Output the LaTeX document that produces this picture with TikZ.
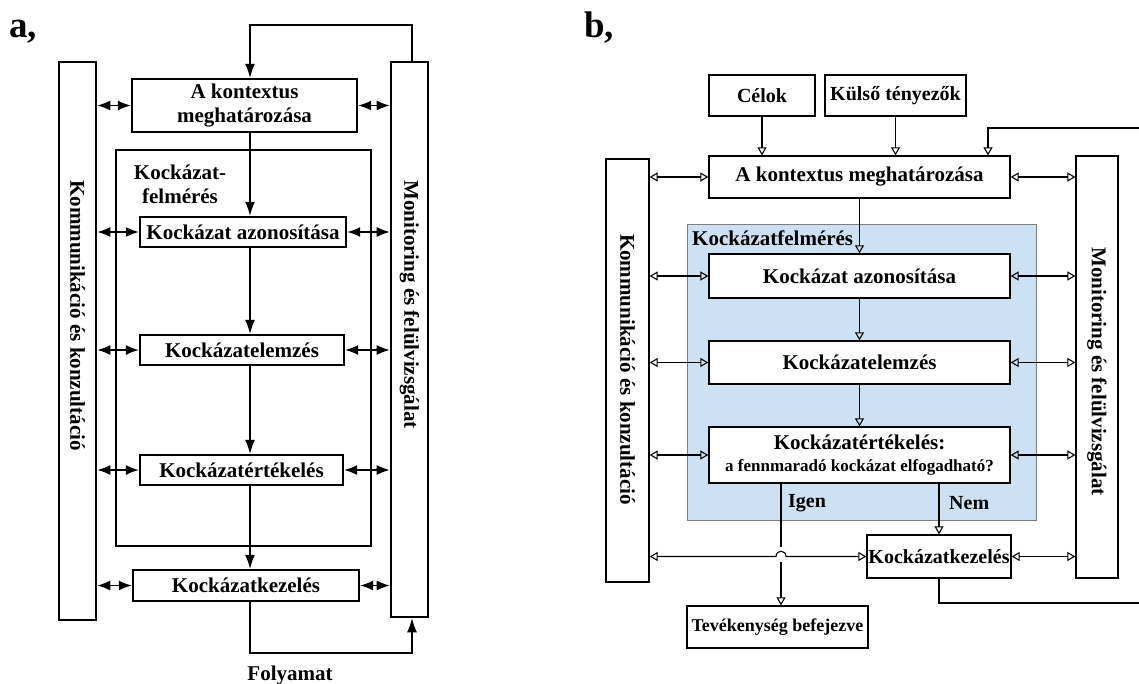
\documentclass[tikz,border=0pt]{standalone}
\usepackage{fontspec}
\setmainfont{Liberation Serif}
\usetikzlibrary{arrows.meta,calc}
\definecolor{bfill}{RGB}{205,225,244}
\definecolor{bedge}{RGB}{125,125,125}
\begin{document}
\begin{tikzpicture}[x=1pt,y=-1pt,
  font=\bfseries\fontsize{21}{24}\selectfont,
  abox/.style={draw, line width=2.3pt, inner sep=0pt, align=center},
  abar/.style={draw, line width=2.6pt, inner sep=0pt},
  aframe/.style={draw, line width=1.4pt, inner sep=0pt},
  aarr/.style={line width=1.4pt, -{Latex[length=14pt,width=10pt]}},
  adbl/.style={line width=1.4pt, {Latex[length=13pt,width=10pt]}-{Latex[length=13pt,width=10pt]}},
  bbox/.style={draw, line width=1.3pt, fill=white, inner sep=0pt, align=center},
  bbar/.style={draw, line width=1.3pt, inner sep=0pt},
  barr/.style={line width=1.1pt, -{Triangle[open,length=8pt,width=9pt]}},
  bdbl/.style={line width=1.1pt, {Triangle[open,length=8pt,width=9pt]}-{Triangle[open,length=8pt,width=9pt]}},
  bline/.style={line width=1.1pt},
  vtext/.style={rotate=-90, inner sep=0pt},
  panellabel/.style={anchor=base west, inner sep=0pt, font=\bfseries\fontsize{37}{40}\selectfont}
]
\useasboundingbox (0,0) rectangle (1139,684);

% ---------------- panel a ----------------
\node[panellabel] (la) at (9,38) {a,};

\node[abar, minimum width=37pt, minimum height=558pt] (aL) at (77.5,341) {};
\node[abar, minimum width=37pt, minimum height=555pt] (aR) at (409.5,339.5) {};
\node[vtext, anchor=west] (aLt) at (77.5,180) {Kommunikáció és konzultáció};
\node[vtext, anchor=west] (aRt) at (409.5,180) {Monitoring és felülvizsgálat};

\node[aframe, minimum width=255pt, minimum height=396pt] (aF) at (243.5,348) {};
\node[align=center, inner sep=0pt] (aFt) at (180,184) {Kockázat-\\felmérés};

\node[abox, minimum width=225pt, minimum height=53pt] (aA) at (244.5,105.5) {A kontextus\\meghatározása};
\node[abox, minimum width=206pt, minimum height=30pt] (aB) at (243,232) {Kockázat azonosítása};
\node[abox, minimum width=204pt, minimum height=30pt] (aC) at (242,350) {Kockázatelemzés};
\node[abox, minimum width=203pt, minimum height=30pt] (aD) at (241.5,470) {Kockázatértékelés};
\node[abox, minimum width=226pt, minimum height=31pt] (aE) at (246,585.5) {Kockázatkezelés};

\coordinate (ax) at (250,0);
\draw[aarr] (aA.south -| ax) -- (aB.north -| ax);
\draw[aarr] (aB.south -| ax) -- (aC.north -| ax);
\draw[aarr] (aC.south -| ax) -- (aD.north -| ax);
\draw[aarr] (aD.south -| ax) -- (aE.north -| ax);

\coordinate (atop) at (412,25);
\draw[aarr] (aR.north -| atop) -- (atop) -| (aA.north -| ax);
\coordinate (abot) at (412,653);
\draw[aarr] (aE.south -| ax) |- (abot) -- (aR.south -| abot);
\node[inner sep=0pt] (afoly) at (290,675) {Folyamat};

\foreach \n in {aA,aB,aC,aD,aE}{
  \draw[adbl] (aL.east |- \n.west) -- (\n.west);
  \draw[adbl] (\n.east) -- (\n.east -| aR.west);
}

% ---------------- panel b ----------------
\node[panellabel] (lb) at (584,38) {b,};

\node[bbar, minimum width=43pt, minimum height=423pt] (bL) at (627.5,370.5) {};
\node[bbar, minimum width=42pt, minimum height=422pt] (bR) at (1097,367) {};
\node[vtext] (bLt) at (627.5,369.5) {Kommunikáció és konzultáció};
\node[vtext] (bRt) at (1097,371.5) {Monitoring és felülvizsgálat};

\node[draw=bedge, fill=bfill, line width=0.8pt, minimum width=349pt, minimum height=296pt, inner sep=0pt] (bF) at (861.5,372) {};
\node[anchor=base west, inner sep=0pt] (bFt) at (692,246) {Kockázatfelmérés};

\node[bbox, minimum width=106pt, minimum height=41pt, font=\bfseries\fontsize{20}{24}\selectfont] (bCel) at (762,95.5) {Célok};
\node[bbox, minimum width=141pt, minimum height=41pt, font=\bfseries\fontsize{20}{24}\selectfont] (bKul) at (895.5,95.5) {Külső tényezők};
\node[bbox, minimum width=301pt, minimum height=42pt] (bA) at (859.5,177) {A kontextus meghatározása};
\node[bbox, minimum width=301pt, minimum height=44pt] (bB) at (859.5,276) {Kockázat azonosítása};
\node[bbox, minimum width=301pt, minimum height=43pt] (bC) at (859.5,362.5) {Kockázatelemzés};
\node[bbox, minimum width=301pt, minimum height=56pt] (bD) at (859.5,455) {Kockázatértékelés:\\[-2pt]{\fontsize{17}{20}\selectfont a fennmaradó kockázat elfogadható?}};
\node[bbox, minimum width=144pt, minimum height=43pt, font=\bfseries\fontsize{20}{24}\selectfont] (bE) at (939,556.5) {Kockázatkezelés};
\node[bbox, minimum width=181pt, minimum height=42pt, font=\bfseries\fontsize{18}{22}\selectfont] (bT) at (777.5,627) {Tevékenység befejezve};

\draw[barr] (bCel) -- (bCel |- bA.north);
\draw[barr] (bKul) -- (bKul |- bA.north);
\coordinate (bfbr) at (1139,128);
\coordinate (bfbx) at (988,128);
\draw[barr] (bfbr) -- (bfbx) -- (bfbx |- bA.north);

\draw[barr] (bA.south) -- (bB.north);
\draw[barr] (bB.south) -- (bC.north);
\draw[barr] (bC.south) -- (bD.north);
\draw[barr] (bE.north |- bD.south) -- (bE.north);
\node[anchor=west, inner sep=0pt, font=\bfseries\fontsize{20}{24}\selectfont] (bNem) at (949,503) {Nem};

\coordinate (igx) at (781,0);
\coordinate (hop) at (igx |- bE.west);
\draw[bline] (bD.south -| igx) -- ($(hop)+(0,-10)$);
\draw[barr] ($(hop)+(0,5)$) -- (bT.north -| igx);
\node[anchor=west, inner sep=0pt, font=\bfseries\fontsize{20}{24}\selectfont] (bIgen) at (788,503) {Igen};

\draw[bdbl] (bL.east |- bE.west) -- ($(hop)+(-5,0)$) .. controls ($(hop)+(-5,-7)$) and ($(hop)+(5,-7)$) .. ($(hop)+(5,0)$) -- (bE.west);
\draw[bdbl] (bE.east) -- (bE.east -| bR.west);

\foreach \n in {bA,bB,bC,bD}{
  \draw[bdbl] (bL.east |- \n.west) -- (\n.west);
  \draw[bdbl] (\n.east) -- (\n.east -| bR.west);
}

\coordinate (bbot) at (1139,603);
\draw[bline] (bE.south) |- (bbot);
\end{tikzpicture}
\end{document}
